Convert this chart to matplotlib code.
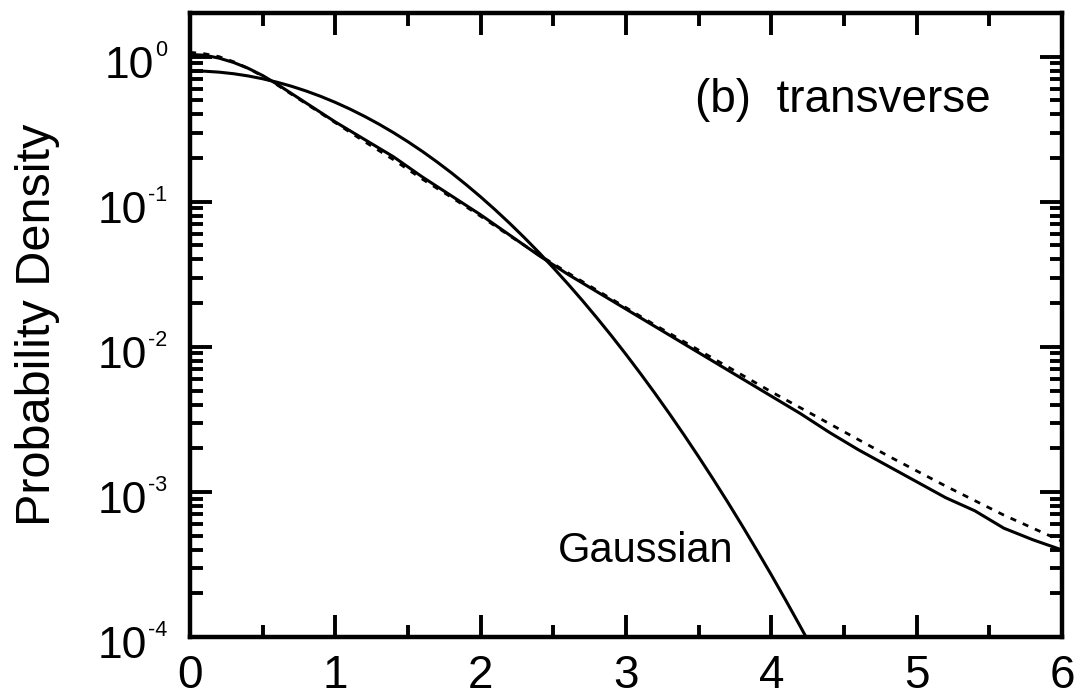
import matplotlib
matplotlib.use("Agg")
import matplotlib.pyplot as plt
import matplotlib.ticker as mticker
import matplotlib.transforms as mtransforms
import numpy as np

plt.rcParams['font.family'] = ['Liberation Sans', 'DejaVu Sans']

# measured distribution (solid), x and log10(density)
data_x = [0.0, 0.1, 0.2, 0.3, 0.4, 0.5, 0.6, 0.8, 1.0, 1.2, 1.4, 1.6, 1.8, 2.0,
          2.2, 2.4, 2.6, 2.8, 3.0, 3.2, 3.4, 3.6, 3.8, 4.0, 4.2, 4.4, 4.6, 4.8,
          5.0, 5.2, 5.4, 5.6, 5.8, 6.0]
data_log = [0.015, 0.01, -0.01, -0.04, -0.08, -0.13, -0.19, -0.32, -0.45, -0.57,
            -0.69, -0.83, -0.96, -1.09, -1.23, -1.37, -1.50, -1.62, -1.74, -1.86,
            -1.98, -2.10, -2.22, -2.34, -2.46, -2.59, -2.71, -2.82, -2.93, -3.04,
            -3.13, -3.25, -3.33, -3.40]

# fitted curve (dotted), same x grid
fit_log = [0.03, 0.02, 0.0, -0.035, -0.08, -0.135, -0.195, -0.325, -0.455, -0.585,
           -0.71, -0.845, -0.97, -1.10, -1.235, -1.365, -1.49, -1.61, -1.73, -1.85,
           -1.965, -2.08, -2.195, -2.31, -2.42, -2.53, -2.64, -2.75, -2.855, -2.96,
           -3.06, -3.16, -3.25, -3.34]

# Gaussian reference curve
gauss_x = [0.0, 0.1, 0.2, 0.3, 0.4, 0.5, 0.6, 0.7, 0.8, 0.9, 1.0, 1.1, 1.2, 1.3,
           1.4, 1.5, 1.6, 1.7, 1.8, 1.9, 2.0, 2.1, 2.2, 2.3, 2.4, 2.5, 2.6, 2.7,
           2.8, 2.9, 3.0, 3.1, 3.2, 3.3, 3.4, 3.5, 3.6, 3.7, 3.8, 3.9, 4.0, 4.1,
           4.2, 4.3]
gauss_y = [0.798, 0.7940, 0.7822, 0.7629, 0.7366, 0.7042, 0.6665, 0.6246, 0.5795,
           0.5323, 0.4840, 0.4358, 0.3884, 0.3428, 0.2995, 0.2591, 0.2219, 0.1881,
           0.1579, 0.1312, 0.1080, 0.08798, 0.07096, 0.05666, 0.04479, 0.03506,
           0.02717, 0.02085, 0.01583, 0.01191, 0.008865, 0.006535, 0.004769,
           0.003446, 0.002465, 0.001745, 0.001224, 0.000850, 0.000584, 0.000397,
           0.000268, 0.0001785, 0.0001179, 0.0000771]

x_ticks = [0, 1, 2, 3, 4, 5, 6]
y_ticks = [1e-4, 1e-3, 1e-2, 1e-1, 1e0]
y_exps = ['-4', '-3', '-2', '-1', '0']

fig = plt.figure(figsize=(10.8, 6.99), dpi=100)
ax = fig.add_axes([190/1080, 62/699, 872/1080, 624/699])

data_y = 10.0 ** np.array(data_log)
fit_y = 10.0 ** np.array(fit_log)

ax.plot(data_x, fit_y, color='black', lw=2.0, linestyle=(0, (2.2, 2.6)))
ax.plot(data_x, data_y, color='black', lw=2.2)
ax.plot(gauss_x, gauss_y, color='black', lw=2.2)

ax.set_yscale('log')
ax.set_xlim(0, 6)
ax.set_ylim(1e-4, 2.0)

ax.set_xticks(x_ticks)
ax.set_xticklabels([str(t) for t in x_ticks])
ax.xaxis.set_minor_locator(mticker.MultipleLocator(0.5))
ax.set_yticks(y_ticks)
ax.set_yticklabels([''] * len(y_ticks))
ax.yaxis.set_minor_locator(mticker.LogLocator(base=10, subs=np.arange(2, 10), numticks=20))
ax.yaxis.set_minor_formatter(mticker.NullFormatter())

for s in ax.spines.values():
    s.set_linewidth(3.2)
ax.tick_params(which='both', direction='in', top=True, right=True, width=2.8)
ax.tick_params(which='major', length=16)
ax.tick_params(which='minor', length=9)
ax.tick_params(axis='x', which='major', labelsize=33, pad=12.5)

# y tick labels: "10" with a small superscript exponent
renderer = fig.canvas.get_renderer()
ytrans = ax.get_yaxis_transform()
x_right = -23 / 872.0
for val, ex in zip(y_ticks, y_exps):
    sup_tr = ytrans + mtransforms.ScaledTranslation(0, 0.005, fig.dpi_scale_trans)
    sup = ax.text(x_right, val, ex, transform=sup_tr, ha='right', va='baseline',
                  fontsize=15.5, clip_on=False)
    w = sup.get_window_extent(renderer).width
    base_tr = ytrans + mtransforms.ScaledTranslation(-(w + 1) / 100.0, -0.055,
                                                     fig.dpi_scale_trans)
    ax.text(x_right, val, '10', transform=base_tr, ha='right', va='center_baseline',
            fontsize=32, clip_on=False)

ax.set_ylabel('Probability Density', fontsize=35)
ax.yaxis.set_label_coords(-0.149, 0.5)

fig.text(695/1080, 1 - 112/699, '(b)  transverse', fontsize=33, ha='left', va='baseline')
fig.text(558/1080, 1 - 562/699, 'Gaussian', fontsize=30, ha='left', va='baseline')

fig.savefig('out.png', dpi=100)
